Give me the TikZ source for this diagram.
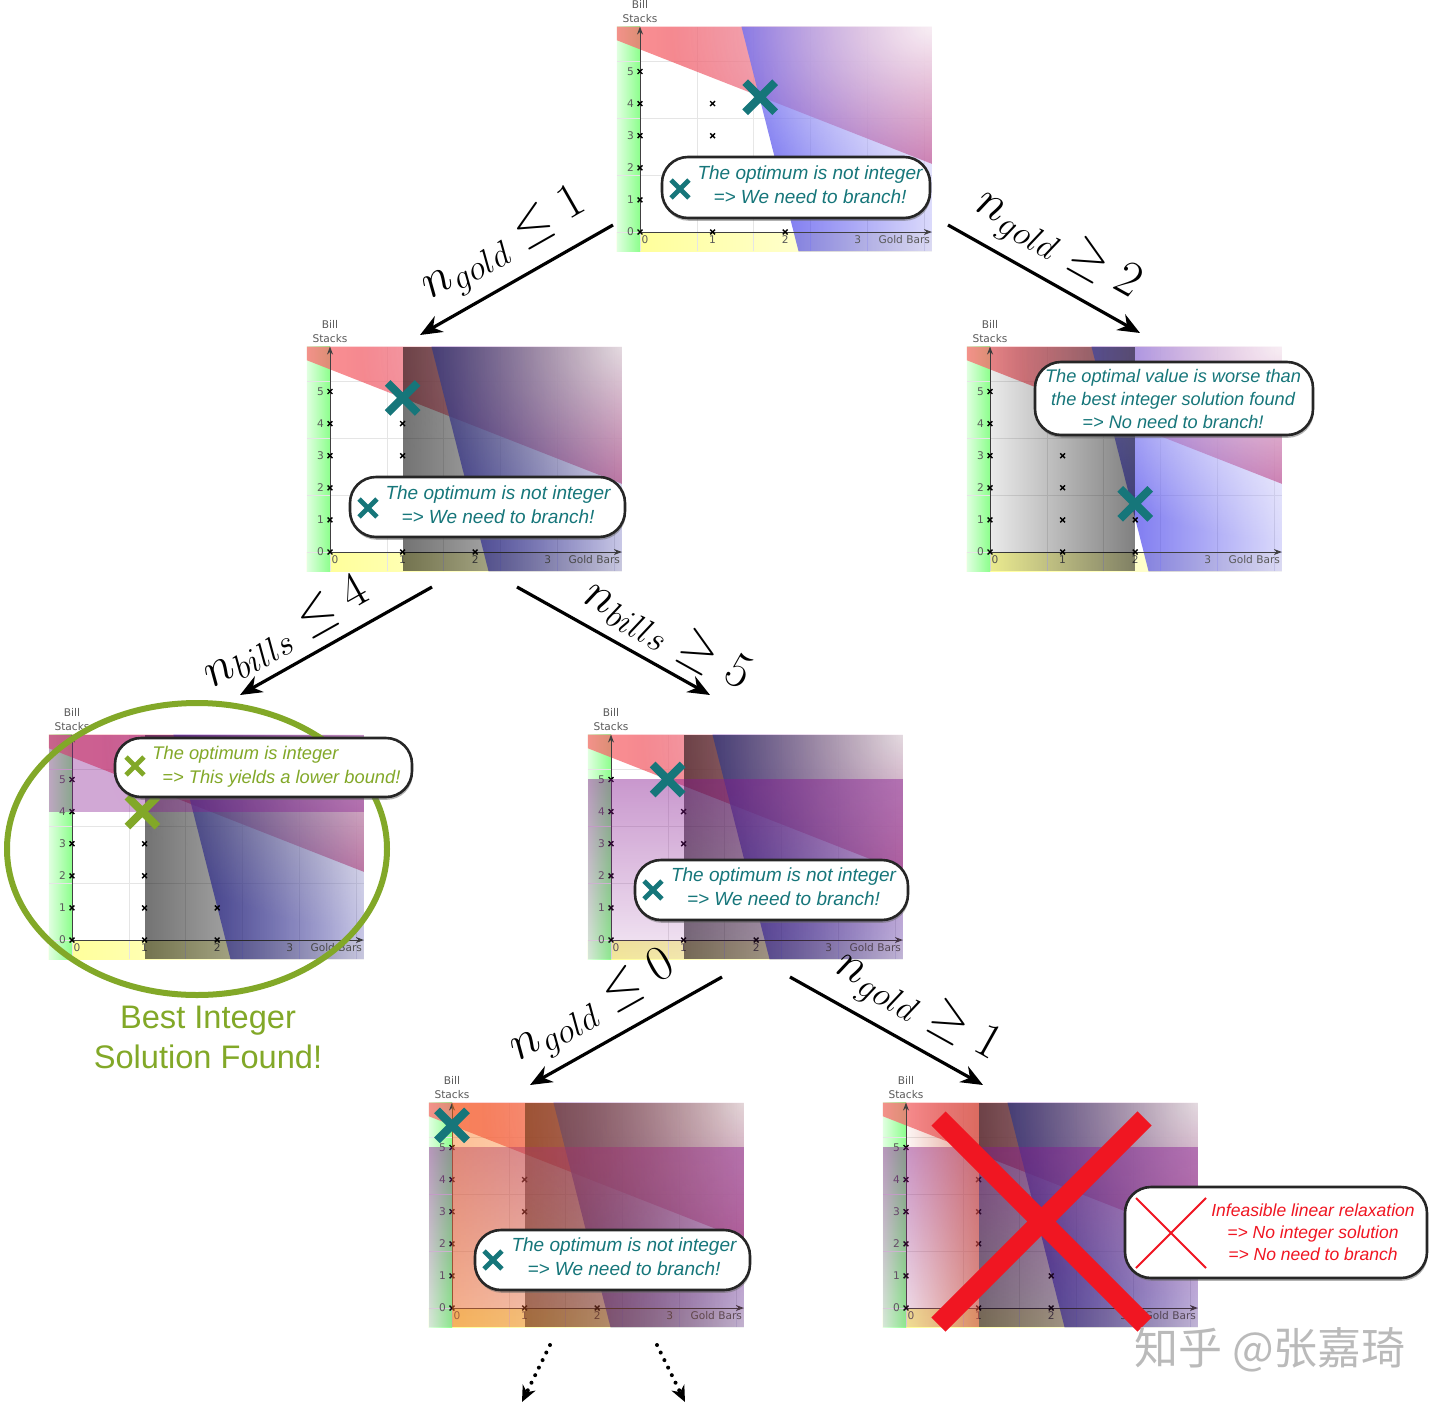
\documentclass[tikz,border=0pt]{standalone}
\usepackage{fontspec}
\setmainfont{Liberation Sans}
\newfontfamily\axisfont{DejaVu Sans}
\newfontfamily\cjkfont{Noto Sans CJK SC}
\usetikzlibrary{arrows.meta,shapes.misc,fadings,shadows}

\definecolor{optteal}{RGB}{22,118,122}
\definecolor{bestgreen}{RGB}{130,168,40}
\definecolor{cutred}{RGB}{240,22,34}
\definecolor{zonered}{RGB}{205,35,90}
\definecolor{zonepink}{RGB}{250,110,110}
\definecolor{zoneblue}{RGB}{75,70,235}
\definecolor{bandpurple}{RGB}{135,25,145}
\definecolor{salmon}{RGB}{205,80,55}
\definecolor{cutorange}{RGB}{250,115,20}

% fadings for the shaded regions
\tikzfading[name=blue fade, left color=transparent!15, right color=transparent!80]
\tikzfading[name=corner fade, inner color=transparent!10, outer color=transparent!100]
\tikzfading[name=gray fade right, left color=transparent!45, right color=transparent!92]
\tikzfading[name=gray fade left, left color=transparent!92, right color=transparent!50]
\tikzfading[name=band fade down, top color=transparent!55, bottom color=transparent!90]
\tikzfading[name=salmon fade, left color=transparent!95, right color=transparent!40]
\tikzfading[name=orange fade, left color=transparent!55, right color=transparent!97]

% one LP plot in its own units (1 = one gold bar / one bill stack)
\newcommand{\lpbase}[1]{%
  % strips along the axes
  \shade[left color=yellow!42, right color=yellow!4] (-0.32,-0.6) rectangle (4.02,0);
  \shade[left color=green!12, right color=green!45] (-0.32,-0.6) rectangle (0,6.4);
  \draw[gridline] (-0.32,-0.6) grid (4.02,6.4);
  % infeasible half-planes
  \shade[left color=zonepink, right color=zonered, opacity=.75]
    (-0.32,5.974) -- (4.02,2.124) -- (4.02,6.4) -- (-0.32,6.4) -- cycle;
  \fill[zoneblue, path fading=blue fade]
    (2.183,-0.6) -- (1.397,6.4) -- (4.02,6.4) -- (4.02,-0.6) -- cycle;
  \begin{scope}
    \clip (-0.32,-0.6) rectangle (4.02,6.4);
    \fill[white, path fading=corner fade] (0.42,0.4) rectangle (7.62,12.4);
  \end{scope}
  % axes
  \draw[axisline] (0,0) -- (4.02,0);
  \draw[axisline] (0,0) -- (0,6.4);
  \foreach \t in {0,...,5}
    \node[ticklbl] (#1-y\t) at (-0.13,\t) {\t};
  \foreach \t in {1,2,3}
    \node[ticklbl] (#1-x\t) at (\t,-0.25) {\t};
  \node[ticklbl] (#1-x0) at (0.07,-0.25) {0};
  \node[ticklbl] (#1-xname) at (3.64,-0.25) {Gold Bars};
  \node[ticklbl, align=center] (#1-yname) at (0,6.88) {Bill\\Stacks};
  % integer points
  \foreach \px/\py in {0/0,0/1,0/2,0/3,0/4,0/5,1/0,1/1,1/2,1/3,1/4,2/0,2/1}
    \draw[latpt] (\px,\py) +(-1.2pt,-1.2pt) -- +(1.2pt,1.2pt) +(-1.2pt,1.2pt) -- +(1.2pt,-1.2pt);
}

\begin{document}
\begin{tikzpicture}[x=0.5pt, y=-0.5pt,
  plotunits/.style={x=36.3pt, y=16.05pt},
  gridline/.style={black!10, line width=0.4pt},
  axisline/.style={black!75, line width=0.5pt, -{Stealth[length=4pt, width=3pt]}},
  ticklbl/.style={font=\axisfont\fontsize{5.3}{7}\selectfont, text=black!65, inner sep=0pt},
  latpt/.style={black, line width=0.7pt},
  optx/.style={cross out, draw=optteal, line width=4pt, minimum size=11pt, inner sep=0pt},
  notex/.style={cross out, draw=optteal, line width=2.4pt, minimum size=6.5pt, inner sep=0pt},
  note/.style={draw=black!85, fill=white, line width=1.3pt, rounded corners=13pt, inner sep=0pt,
    drop shadow={shadow xshift=0.4pt, shadow yshift=-1.4pt, fill=black!60}},
  notetext/.style={font=\itshape\fontsize{9.5}{12}\selectfont, text=optteal, align=center, inner sep=0pt},
  branch/.style={line width=1.6pt, -{Stealth[length=11pt, width=9pt, inset=3.5pt]}},
  more/.style={line width=2pt, line cap=round, dash pattern=on 0pt off 4.2pt,
    -{Stealth[length=8pt, width=7pt, inset=2.5pt]}},
  cutlbl/.style={font=\fontsize{25}{30}\selectfont, sloped, above=3pt, inner sep=2pt},
]
\useasboundingbox (0,0) rectangle (1440,1408);

% root relaxation
\begin{scope}[shift={(640,232)}, plotunits]
  \lpbase{root}
  \node[optx] (root-opt) at (1.655,4.2) {};
\end{scope}

% n_gold <= 1
\begin{scope}[shift={(330,552)}, plotunits]
  \lpbase{goldle1}
  \fill[black, path fading=gray fade right] (1,-0.6) rectangle (4.02,6.4);
  \node[optx] (goldle1-opt) at (1,4.8) {};
\end{scope}

% n_gold >= 2
\begin{scope}[shift={(990,552)}, plotunits]
  \lpbase{goldge2}
  \fill[black, path fading=gray fade left] (0,-0.6) rectangle (2,6.4);
  \node[optx] (goldge2-opt) at (2,1.5) {};
\end{scope}

% n_bills <= 4
\begin{scope}[shift={(72,940)}, plotunits]
  \lpbase{billle4}
  \fill[black, path fading=gray fade right] (1,-0.6) rectangle (4.02,6.4);
  \fill[bandpurple, opacity=.38] (-0.32,4) rectangle (4.02,6.4);
  \node[optx, draw=bestgreen] (billle4-opt) at (0.97,4) {};
\end{scope}

% n_bills >= 5
\begin{scope}[shift={(611,940)}, plotunits]
  \lpbase{billge5}
  \fill[black, path fading=gray fade right] (1,-0.6) rectangle (4.02,6.4);
  \fill[bandpurple, path fading=band fade down] (-0.32,-0.6) rectangle (4.02,5);
  \node[optx] (billge5-opt) at (0.78,5) {};
\end{scope}

% n_gold <= 0
\begin{scope}[shift={(452,1308)}, plotunits]
  \lpbase{goldle0}
  \fill[black, path fading=gray fade right] (1,-0.6) rectangle (4.02,6.4);
  \fill[bandpurple, path fading=band fade down] (-0.32,-0.6) rectangle (4.02,5);
  \fill[cutorange, path fading=orange fade] (0,-0.6) rectangle (4.02,6.4);
  \node[optx] (goldle0-opt) at (0,5.69) {};
\end{scope}

% n_gold >= 1
\begin{scope}[shift={(906,1308)}, plotunits]
  \lpbase{goldge1}
  \fill[black, path fading=gray fade right] (1,-0.6) rectangle (4.02,6.4);
  \fill[bandpurple, path fading=band fade down] (-0.32,-0.6) rectangle (4.02,5);
  \fill[salmon, path fading=salmon fade] (0,-0.6) rectangle (1,6.4);
\end{scope}

% branching arrows
\coordinate (root-l) at (613,225);
\coordinate (root-r) at (948,225);
\coordinate (goldle1-in) at (420,335);
\coordinate (goldge2-in) at (1140,333);
\coordinate (goldle1-l) at (432,587);
\coordinate (goldle1-r) at (517,587);
\coordinate (billle4-in) at (240,695);
\coordinate (billge5-in) at (710,695);
\coordinate (billge5-l) at (722,977);
\coordinate (billge5-r) at (790,977);
\coordinate (goldle0-in) at (530,1085);
\coordinate (goldge1-in) at (983,1085);
\coordinate (goldle0-l) at (550,1345);
\coordinate (goldle0-r) at (657,1345);
\coordinate (goldle0-dl) at (522,1402);
\coordinate (goldle0-dr) at (685,1402);

\draw[branch] (root-l) -- (goldle1-in) node[cutlbl, pos=.47] {$n_{gold} \leq 1$};
\draw[branch] (root-r) -- (goldge2-in) node[cutlbl, pos=.48] {$n_{gold} \geq 2$};
\draw[branch] (goldle1-l) -- (billle4-in) node[cutlbl, pos=.68] {$n_{bills} \leq 4$};
\draw[branch] (goldle1-r) -- (billge5-in) node[cutlbl, pos=.70] {$n_{bills} \geq 5$};
\draw[branch] (billge5-l) -- (goldle0-in) node[cutlbl, pos=.58] {$n_{gold} \leq 0$};
\draw[branch] (billge5-r) -- (goldge1-in) node[cutlbl, pos=.57] {$n_{gold} \geq 1$};
\draw[more] (goldle0-l) -- (goldle0-dl);
\draw[more] (goldle0-r) -- (goldle0-dr);

% best integer solution
\draw[bestgreen, line width=3pt] (197,849) ellipse (190 and 146);
\node[font=\fontsize{16.3}{20}\selectfont, text=bestgreen, align=center] (best) at (208,1037)
  {Best Integer\\Solution Found!};

% infeasible node
\node[cross out, draw=cutred, line width=10pt, minimum size=93pt, inner sep=0pt] (goldge1-dead)
  at (1041.5,1221.5) {};

% callouts
\node[note, minimum width=134pt, minimum height=30.5pt] (root-note) at (796,187.5) {};
\node[notetext] (root-txt) at (810,185) {The optimum is not integer\\=> We need to branch!};
\node[notex] (root-x) at (680,189) {};

\node[note, minimum width=137.5pt, minimum height=30pt] (goldle1-note) at (487.5,507) {};
\node[notetext] (goldle1-txt) at (498,505) {The optimum is not integer\\=> We need to branch!};
\node[notex] (goldle1-x) at (368,508) {};

\node[note, minimum width=139pt, minimum height=36.5pt] (goldge2-note) at (1174,398.5) {};
\node[notetext, font=\itshape\fontsize{9.1}{11.5}\selectfont] (goldge2-txt) at (1173,399)
  {The optimal value is worse than\\the best integer solution found\\=> No need to branch!};

\node[note, minimum width=148.5pt, minimum height=29.5pt] (billle4-note) at (263.5,767.5) {};
\node[notetext, text=bestgreen, align=left, anchor=west, font=\itshape\fontsize{9.15}{12}\selectfont]
  (billle4-txt) at (152,767) {The optimum is integer\\\hspace*{5pt}=> This yields a lower bound!};
\node[notex, draw=bestgreen] (billle4-x) at (135,766) {};

\node[note, minimum width=136.5pt, minimum height=30pt] (billge5-note) at (771.5,890) {};
\node[notetext] (billge5-txt) at (783.5,887) {The optimum is not integer\\=> We need to branch!};
\node[notex] (billge5-x) at (653,890) {};

\node[note, minimum width=137.5pt, minimum height=30pt] (goldle0-note) at (612.5,1260) {};
\node[notetext] (goldle0-txt) at (624,1257) {The optimum is not integer\\=> We need to branch!};
\node[notex] (goldle0-x) at (493,1260) {};

\node[note, minimum width=151pt, minimum height=45.5pt] (goldge1-note) at (1276,1232.5) {};
\node[notetext, text=cutred, font=\itshape\fontsize{8.75}{11}\selectfont] (goldge1-txt) at (1313,1232)
  {Infeasible linear relaxation\\=> No integer solution\\=> No need to branch};
\node[cross out, draw=cutred, line width=1pt, minimum size=34pt, inner sep=0pt] (goldge1-x)
  at (1171,1233) {};

% watermark
\node[font=\cjkfont\fontsize{22}{24}\selectfont, text=black!27] (mark) at (1270,1350) {知乎 @张嘉琦};
\end{tikzpicture}
\end{document}
